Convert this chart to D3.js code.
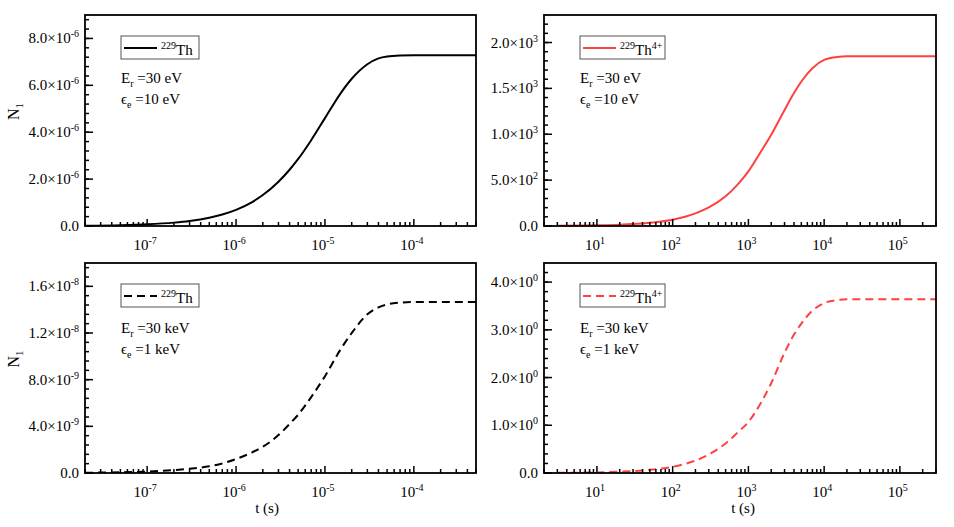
<!DOCTYPE html>
<html lang="en">
<head>
  <meta charset="UTF-8">
  <title>N1 vs t, 229Th</title>
  <style>
    body { margin: 0; background: #fff; }
    svg { display: block; font-family: "Liberation Serif", "DejaVu Serif", serif; }
  </style>
</head>
<body>
  <svg id="chart" width="954" height="527"></svg>

  <script src="https://d3js.org/d3.v7.min.js"></script>
  <script>
    // --- data ---
    // neutral atom, time in s
    const tAtom = [2e-8, 5e-8, 1e-7, 2e-7, 3e-7, 5e-7, 7e-7, 1e-6, 1.5e-6, 2e-6, 3e-6, 4e-6, 5e-6, 7e-6,
                   1e-5, 1.5e-5, 2e-5, 3e-5, 4e-5, 5e-5, 7e-5, 1e-4, 5e-4];
    const nAtom10eV = [0.015e-6, 0.036e-6, 0.072e-6, 0.144e-6, 0.215e-6, 0.355e-6, 0.49e-6, 0.69e-6, 1.01e-6, 1.32e-6,
                       1.89e-6, 2.4e-6, 2.86e-6, 3.66e-6, 4.6e-6, 5.66e-6, 6.28e-6, 6.9e-6, 7.15e-6, 7.23e-6,
                       7.27e-6, 7.28e-6, 7.28e-6];
    const nAtom1keV = [0.025e-9, 0.06e-9, 0.12e-9, 0.25e-9, 0.36e-9, 0.58e-9, 0.82e-9, 1.2e-9, 1.75e-9, 2.25e-9,
                       3.25e-9, 4.2e-9, 5.0e-9, 6.5e-9, 8.3e-9, 10.6e-9, 12.0e-9, 13.6e-9, 14.2e-9, 14.45e-9,
                       14.6e-9, 14.65e-9, 14.65e-9];

    // 4+ ion, time in s
    const tIon = [3, 10, 20, 30, 50, 70, 100, 150, 200, 300, 500, 700, 1e3, 1.5e3, 2e3, 3e3, 4e3, 5e3, 7e3,
                  1e4, 1.5e4, 2e4, 3e5];
    const nIon10eV = [2, 7, 14, 21, 35, 49, 69, 103, 137, 202, 324, 440, 595, 825, 995, 1265, 1450, 1575, 1720,
                      1810, 1843, 1849, 1850];
    const nIon1keV = [0.004, 0.013, 0.027, 0.04, 0.066, 0.093, 0.13, 0.197, 0.26, 0.39, 0.62, 0.83, 1.07, 1.5, 1.88,
                      2.52, 2.9, 3.13, 3.4, 3.56, 3.625, 3.638, 3.64];

    // axis ticks
    const yTicksAtom10eV = [0, 2e-6, 4e-6, 6e-6, 8e-6];
    const yTicksIon10eV = [0, 500, 1000, 1500, 2000];
    const yTicksAtom1keV = [0, 4e-9, 8e-9, 1.2e-8, 1.6e-8];
    const yTicksIon1keV = [0, 1, 2, 3, 4];

    const svg = d3.select("#chart");

    const panels = [
      { x0: 85, x1: 476, y0: 15, y1: 226, xDomain: [2e-8, 5e-4], yMax: 9e-6, yTicks: yTicksAtom10eV, yMinor: 0.4e-6,
        t: tAtom, n: nAtom10eV, color: "#000", dash: null, ion: false, er: "30 eV", ee: "10 eV", yTitle: true, xTitle: null },
      { x0: 544, x1: 936, y0: 15, y1: 226, xDomain: [2, 3e5], yMax: 2300, yTicks: yTicksIon10eV, yMinor: 100,
        t: tIon, n: nIon10eV, color: "#ff4040", dash: null, ion: true, er: "30 eV", ee: "10 eV", yTitle: false, xTitle: null },
      { x0: 85, x1: 476, y0: 263, y1: 473, xDomain: [2e-8, 5e-4], yMax: 1.8e-8, yTicks: yTicksAtom1keV, yMinor: 0.8e-9,
        t: tAtom, n: nAtom1keV, color: "#000", dash: "8,5", ion: false, er: "30 keV", ee: "1 keV", yTitle: true, xTitle: 267 },
      { x0: 544, x1: 936, y0: 263, y1: 473, xDomain: [2, 3e5], yMax: 4.4, yTicks: yTicksIon1keV, yMinor: 0.2,
        t: tIon, n: nIon1keV, color: "#ff4040", dash: "8,5", ion: true, er: "30 keV", ee: "1 keV", yTitle: false, xTitle: 743 }
    ];

    panels.forEach((p, idx) => {
      const x = d3.scaleLog().domain(p.xDomain).range([p.x0, p.x1]);
      const y = d3.scaleLinear().domain([0, p.yMax]).range([p.y1, p.y0]);
      const g = svg.append("g");

      g.append("clipPath").attr("id", "clip" + idx)
        .append("rect").attr("x", p.x0).attr("y", p.y0)
        .attr("width", p.x1 - p.x0).attr("height", p.y1 - p.y0);

      // curve
      const line = d3.line()
        .x((d, i) => x(p.t[i]))
        .y(d => y(d))
        .curve(d3.curveMonotoneX);
      g.append("path")
        .attr("d", line(p.n))
        .attr("clip-path", `url(#clip${idx})`)
        .attr("fill", "none")
        .attr("stroke", p.color)
        .attr("stroke-width", 2)
        .attr("stroke-dasharray", p.dash);

      // x ticks (inward)
      x.ticks().forEach(v => {
        const e = Math.round(Math.log10(v));
        const major = Math.abs(v / Math.pow(10, e) - 1) < 1e-6;
        g.append("line")
          .attr("x1", x(v)).attr("x2", x(v))
          .attr("y1", p.y1).attr("y2", p.y1 - (major ? 7 : 4))
          .attr("stroke", "#000").attr("stroke-width", 1.5);
        if (major) {
          const tx = g.append("text")
            .attr("x", x(v) - 2).attr("y", p.y1 + 24)
            .attr("text-anchor", "middle")
            .attr("font-size", 15);
          tx.append("tspan").text("10");
          tx.append("tspan").attr("dy", -6).attr("font-size", 10).text(e);
        }
      });

      // y minor ticks
      d3.range(0, p.yMax + p.yMinor / 2, p.yMinor).forEach(v => {
        if (y(v) < p.y0 + 1) return;
        g.append("line")
          .attr("x1", p.x0).attr("x2", p.x0 + 4)
          .attr("y1", y(v)).attr("y2", y(v))
          .attr("stroke", "#000").attr("stroke-width", 1.5);
      });

      // y major ticks + labels
      p.yTicks.forEach(v => {
        g.append("line")
          .attr("x1", p.x0).attr("x2", p.x0 + 8)
          .attr("y1", y(v)).attr("y2", y(v))
          .attr("stroke", "#000").attr("stroke-width", 1.5);
        const tx = g.append("text")
          .attr("x", p.x0 - 6).attr("y", y(v) + 5)
          .attr("text-anchor", "end")
          .attr("font-size", 15);
        if (v === 0) {
          tx.text("0.0");
        } else {
          const e = Math.floor(Math.log10(v) + 1e-9);
          const m = (v / Math.pow(10, e)).toFixed(1);
          tx.append("tspan").text(m + "\u00d710");
          tx.append("tspan").attr("dy", -6).attr("font-size", 10).text(e);
        }
      });

      // frame
      g.append("rect")
        .attr("x", p.x0).attr("y", p.y0)
        .attr("width", p.x1 - p.x0).attr("height", p.y1 - p.y0)
        .attr("fill", "none").attr("stroke", "#000").attr("stroke-width", 1.8);

      // legend
      const bx = p.x0 + 36, by = p.y0 + 21;
      g.append("rect")
        .attr("x", bx).attr("y", by)
        .attr("width", p.ion ? 85 : 78).attr("height", 23)
        .attr("fill", "#fff").attr("stroke", "#555").attr("stroke-width", 1);
      g.append("line")
        .attr("x1", bx + 3).attr("x2", bx + 36)
        .attr("y1", by + 12).attr("y2", by + 12)
        .attr("stroke", p.color).attr("stroke-width", 2)
        .attr("stroke-dasharray", p.dash);
      const lt = g.append("text")
        .attr("x", bx + 40).attr("y", by + 19)
        .attr("font-size", 15);
      lt.append("tspan").attr("font-size", 10).attr("dy", -6).text("229");
      lt.append("tspan").attr("dy", 6).text("Th");
      if (p.ion) lt.append("tspan").attr("font-size", 10).attr("dy", -6).text("4+");

      // annotation
      const ay = p.y0 + (p.xTitle ? 70 : 68);
      const a1 = g.append("text").attr("x", bx).attr("y", ay).attr("font-size", 15);
      a1.append("tspan").text("E");
      a1.append("tspan").attr("font-size", 10).attr("dy", 4).text("r");
      a1.append("tspan").attr("dy", -4).text(" =" + p.er);
      const a2 = g.append("text").attr("x", bx).attr("y", ay + 21).attr("font-size", 15);
      a2.append("tspan").text("\u03f5");
      a2.append("tspan").attr("font-size", 10).attr("dy", 4).text("e");
      a2.append("tspan").attr("dy", -4).text(" =" + p.ee);

      // axis titles
      if (p.yTitle) {
        const cy = (p.y0 + p.y1) / 2 - 9;
        const yt = g.append("text")
          .attr("transform", `translate(19,${cy}) rotate(-90)`)
          .attr("text-anchor", "middle")
          .attr("font-size", 16);
        yt.append("tspan").text("N");
        yt.append("tspan").attr("font-size", 11).attr("dy", 4).text("1");
      }
      if (p.xTitle) {
        g.append("text")
          .attr("x", p.xTitle).attr("y", p.y1 + 40)
          .attr("text-anchor", "middle")
          .attr("font-size", 15)
          .text("t (s)");
      }
    });
  </script>
</body>
</html>
